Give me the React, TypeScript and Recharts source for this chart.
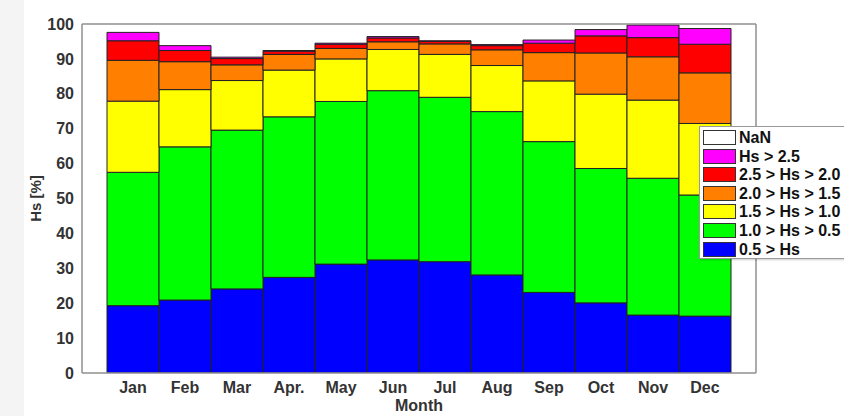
import React from 'react';
import { BarChart, Bar, XAxis, YAxis, Label } from 'recharts';

const months = ['Jan', 'Feb', 'Mar', 'Apr.', 'May', 'Jun', 'Jul', 'Aug', 'Sep', 'Oct', 'Nov', 'Dec'];

// percentage of time in each Hs class, per month (bottom to top)
const below05 = [19.3, 20.9, 24.1, 27.4, 31.2, 32.4, 31.9, 28.1, 23.1, 20.1, 16.6, 16.3];
const from05to10 = [38.2, 43.9, 45.5, 46.0, 46.6, 48.5, 47.1, 46.8, 43.2, 38.5, 39.2, 34.7];
const from10to15 = [20.4, 16.4, 14.2, 13.4, 12.2, 11.8, 12.3, 13.2, 17.4, 21.3, 22.4, 20.5];
const from15to20 = [11.7, 8.0, 4.5, 4.5, 3.0, 2.2, 3.0, 4.5, 8.1, 11.8, 12.4, 14.5];
const from20to25 = [5.6, 3.2, 1.8, 0.9, 1.2, 1.1, 0.7, 1.2, 2.7, 4.9, 5.5, 8.2];
const above25 = [2.4, 1.4, 0.4, 0.2, 0.3, 0.4, 0.2, 0.3, 0.9, 1.8, 3.6, 4.5];

const yTicks = [0, 10, 20, 30, 40, 50, 60, 70, 80, 90, 100];

const series = [
  { key: 'b05', name: '0.5 > Hs', color: '#0000ff', values: below05 },
  { key: 'b10', name: '1.0 > Hs > 0.5', color: '#00ff00', values: from05to10 },
  { key: 'b15', name: '1.5 > Hs > 1.0', color: '#ffff00', values: from10to15 },
  { key: 'b20', name: '2.0 > Hs > 1.5', color: '#ff8000', values: from15to20 },
  { key: 'b25', name: '2.5 > Hs > 2.0', color: '#ff0000', values: from20to25 },
  { key: 'a25', name: 'Hs > 2.5', color: '#ff00ff', values: above25 },
];

const legendItems = [
  { name: 'NaN', color: '#ffffff' },
  ...series.slice().reverse().map((s) => ({ name: s.name, color: s.color })),
];

const data = months.map((m, i) => {
  const row: Record<string, string | number> = { month: m };
  series.forEach((s) => {
    row[s.key] = s.values[i];
  });
  return row;
});

const font = '"Liberation Sans", Arial, sans-serif';
const axisGray = '#8f8f8f';
const tickStyle = { fontFamily: font, fontWeight: 700, fontSize: 16, fill: '#333' };

const YLabel = (props: any) => {
  const { viewBox } = props;
  const x = viewBox.x + 41;
  const y = viewBox.y + viewBox.height / 2;
  return (
    <text
      x={x}
      y={y}
      transform={`rotate(-90, ${x}, ${y})`}
      textAnchor="middle"
      style={{ fontFamily: font, fontWeight: 700, fontSize: 15, fill: '#333' }}
    >
      Hs [%]
    </text>
  );
};

export default function App() {
  return (
    <div style={{ position: 'absolute', left: 0, top: 0, width: 844, height: 416, overflow: 'hidden', background: '#fff' }}>
      <div style={{ position: 'absolute', left: 0, top: 0, width: 24, height: 416, background: '#f4f4f4' }} />
      <BarChart
        width={844}
        height={416}
        data={data}
        margin={{ top: 24, right: 88, bottom: 0, left: 0 }}
        barCategoryGap={0}
        style={{ position: 'absolute', left: 0, top: 0 }}
      >
        <XAxis
          dataKey="month"
          height={43}
          padding={{ left: 25, right: 25 }}
          tickLine={false}
          tickSize={0}
          tickMargin={9}
          axisLine={{ stroke: axisGray, strokeWidth: 1.5 }}
          tick={tickStyle}
          interval={0}
        >
          <Label
            value="Month"
            position="insideBottom"
            offset={5}
            style={{ fontFamily: font, fontWeight: 700, fontSize: 16, fill: '#333' }}
          />
        </XAxis>
        <XAxis
          xAxisId="top"
          dataKey="month"
          orientation="top"
          mirror
          padding={{ left: 25, right: 25 }}
          tick={false}
          tickSize={4}
          tickLine={{ stroke: axisGray }}
          axisLine={{ stroke: axisGray, strokeWidth: 1.5 }}
          interval={0}
        />
        <XAxis
          xAxisId="bottomIn"
          dataKey="month"
          orientation="bottom"
          mirror
          padding={{ left: 25, right: 25 }}
          tick={false}
          tickSize={3}
          tickLine={{ stroke: '#d8d8d8' }}
          axisLine={false}
          interval={0}
        />
        <YAxis
          type="number"
          domain={[0, 100]}
          ticks={yTicks}
          width={82}
          tickLine={false}
          tickSize={0}
          tickMargin={8}
          axisLine={{ stroke: axisGray, strokeWidth: 1.5 }}
          tick={tickStyle}
          allowDataOverflow
        >
          <Label content={YLabel} />
        </YAxis>
        <YAxis
          yAxisId="leftIn"
          type="number"
          domain={[0, 100]}
          ticks={yTicks}
          mirror
          tick={false}
          tickSize={5}
          tickLine={{ stroke: axisGray }}
          axisLine={false}
        />
        <YAxis
          yAxisId="right"
          type="number"
          orientation="right"
          domain={[0, 100]}
          ticks={yTicks}
          mirror
          tick={false}
          tickSize={5}
          tickLine={{ stroke: axisGray }}
          axisLine={{ stroke: axisGray, strokeWidth: 1.5 }}
        />
        {series.map((s) => (
          <Bar
            key={s.key}
            dataKey={s.key}
            name={s.name}
            stackId="hs"
            fill={s.color}
            stroke="#222"
            strokeWidth={1}
            isAnimationActive={false}
          />
        ))}
      </BarChart>
      <div
        style={{
          position: 'absolute',
          left: 699,
          top: 126,
          width: 160,
          height: 131,
          border: '1px solid #9a9a9a',
          background: '#fff',
          boxShadow: '1px 1px 2px rgba(0,0,0,0.2)',
        }}
      >
        {legendItems.map((item, i) => (
          <div
            key={item.name}
            style={{ position: 'absolute', left: 3, top: 3 + i * 18.6, height: 15, display: 'flex', alignItems: 'center' }}
          >
            <div style={{ width: 31, height: 13, background: item.color, border: '1px solid #333' }} />
            <span
              style={{
                marginLeft: 3,
                fontFamily: font,
                fontWeight: 700,
                fontSize: 16,
                color: '#111',
                whiteSpace: 'nowrap',
                lineHeight: '15px',
              }}
            >
              {item.name}
            </span>
          </div>
        ))}
      </div>
    </div>
  );
}
